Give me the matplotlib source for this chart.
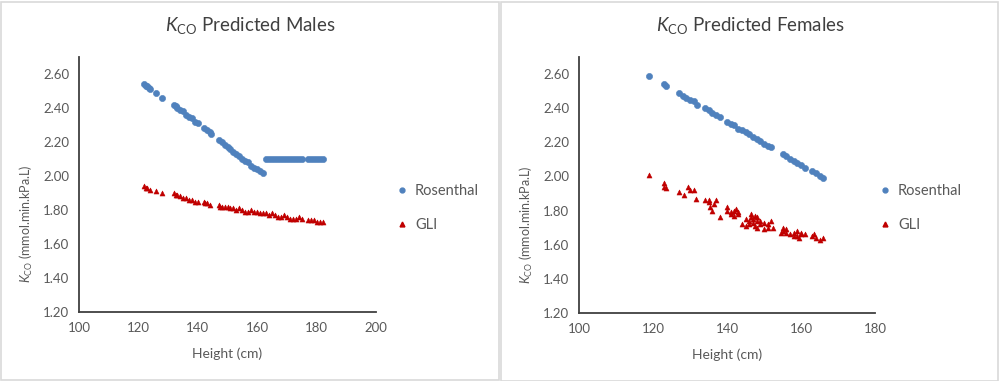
import matplotlib
matplotlib.use("Agg")
import matplotlib.pyplot as plt
from matplotlib.lines import Line2D

plt.rcParams['font.family'] = ['Lato', 'DejaVu Sans']
plt.rcParams['mathtext.fontset'] = 'custom'
plt.rcParams['mathtext.rm'] = 'Lato'
plt.rcParams['mathtext.it'] = 'Lato:italic'

# ---------------- data ----------------
male_ros_h = [122, 122.5, 123, 123.5, 124, 126, 128, 132, 132.5, 133, 134, 135, 136, 137, 138, 139, 140,
              142, 143, 144, 144.5, 147, 148, 149, 150, 151, 152, 153, 154, 155, 156, 157, 158, 159,
              160, 161, 162,
              163, 164, 165, 166, 167, 168, 169, 170, 171, 172, 173, 174, 175, 177, 178, 179, 180, 181, 182]
male_ros_k = [2.54, 2.53, 2.53, 2.52, 2.51, 2.49, 2.46, 2.42, 2.41, 2.40, 2.39, 2.38, 2.36, 2.35, 2.34, 2.32, 2.31,
              2.28, 2.27, 2.26, 2.25, 2.21, 2.20, 2.18, 2.17, 2.16, 2.14, 2.13, 2.12, 2.10, 2.09, 2.08, 2.06, 2.05,
              2.04, 2.03, 2.02,
              2.10, 2.10, 2.10, 2.10, 2.10, 2.10, 2.10, 2.10, 2.10, 2.10, 2.10, 2.10, 2.10, 2.10, 2.10, 2.10, 2.10, 2.10, 2.10]

male_gli_h = [122, 122.5, 123, 124, 126, 128, 132, 132.5, 133, 134, 135, 136, 137, 138, 139, 140,
              142, 142.5, 143, 144, 147, 147.5, 148, 149, 150, 151, 152, 153, 154, 155, 156, 157, 158,
              159, 160, 161, 162, 163, 164, 165, 166, 167, 168, 169, 170, 171, 172, 173, 174, 175,
              177, 178, 179, 180, 181, 182]
male_gli_k = [1.94, 1.93, 1.93, 1.92, 1.91, 1.90, 1.90, 1.89, 1.89, 1.88, 1.87, 1.87, 1.86, 1.86, 1.85, 1.85,
              1.85, 1.84, 1.84, 1.83, 1.83, 1.82, 1.82, 1.82, 1.82, 1.81, 1.81, 1.80, 1.81, 1.80, 1.79, 1.79, 1.80,
              1.79, 1.79, 1.78, 1.78, 1.78, 1.77, 1.78, 1.77, 1.76, 1.76, 1.77, 1.76, 1.75, 1.75, 1.75, 1.76, 1.75,
              1.74, 1.74, 1.74, 1.73, 1.73, 1.73]

fem_ros_h = [119, 123, 123.5, 127, 128, 129, 130, 131, 132, 134, 135, 136, 137, 138, 140, 141, 142, 143,
             144, 145, 146, 147, 148, 149, 150, 151, 152, 155, 156, 157, 158, 159, 160, 161, 163, 164, 165, 166]
fem_ros_k = [2.59, 2.54, 2.53, 2.49, 2.47, 2.46, 2.45, 2.44, 2.42, 2.40, 2.39, 2.37, 2.36, 2.35, 2.32, 2.31,
             2.30, 2.28, 2.27, 2.26, 2.25, 2.23, 2.22, 2.21, 2.19, 2.18, 2.17, 2.13, 2.12, 2.10, 2.09, 2.08,
             2.07, 2.05, 2.03, 2.02, 2.00, 1.99]

fem_gli_h = [119, 123, 123, 123.5, 127, 128.5, 129.5, 130, 131, 131.5, 134, 135, 135, 135.5, 136, 136.5, 137,
             138, 140, 140, 141, 141, 142, 142, 142.5, 143, 143, 144, 145, 145, 146, 146, 146.5, 146.5,
             147, 147, 147.5, 147.5, 148, 148, 148, 149, 149, 150, 150, 151, 151, 152, 152.5, 154.5,
             155, 155, 156, 156, 157, 158, 158, 159, 159, 159.5, 160, 160, 161, 163, 163.5, 164, 165, 166]
fem_gli_k = [2.01, 1.96, 1.94, 1.93, 1.91, 1.89, 1.94, 1.92, 1.92, 1.87, 1.86, 1.85, 1.86, 1.82, 1.80, 1.84, 1.86,
             1.76, 1.82, 1.80, 1.79, 1.78, 1.80, 1.77, 1.81, 1.79, 1.78, 1.72, 1.71, 1.75, 1.74, 1.72, 1.78, 1.76,
             1.73, 1.75, 1.77, 1.71, 1.76, 1.74, 1.70, 1.74, 1.72, 1.73, 1.69, 1.72, 1.70, 1.74, 1.70, 1.67,
             1.70, 1.68, 1.69, 1.67, 1.66, 1.65, 1.67, 1.68, 1.65, 1.64, 1.66, 1.67, 1.66, 1.65, 1.66, 1.64, 1.63, 1.64]

y_ticks = [1.20, 1.40, 1.60, 1.80, 2.00, 2.20, 2.40, 2.60]
male_x_ticks = [100, 120, 140, 160, 180, 200]
fem_x_ticks = [100, 120, 140, 160, 180]
titles = ["Predicted Males", "Predicted Females"]
series_names = ["Rosenthal", "GLI"]

# ---------------- style ----------------
W, H = 999, 381
BLUE = '#4F81BD'
RED = '#C00000'
TXT = '#595959'

fig = plt.figure(figsize=(W / 100, H / 100), dpi=100)
fig.patch.set_facecolor('white')


def px_axes(x0, x1, ytop, ybot):
    return fig.add_axes([x0 / W, (H - ybot) / H, (x1 - x0) / W, (ybot - ytop) / H])


# panel frames
fig.add_artist(plt.Rectangle((0.5 / W, 1.5 / H), 498 / W, 378 / H, transform=fig.transFigure,
                             fill=False, ec='#D9D9D9', lw=1.2))
fig.add_artist(plt.Rectangle((500.5 / W, 0.5 / H), 497 / W, 379 / H, transform=fig.transFigure,
                             fill=False, ec='#D9D9D9', lw=1.2))

panels = [
    dict(ax=px_axes(79, 376, 57, 312), x0=79, xlim=(100, 200), xt=male_x_ticks,
         ros=(male_ros_h, male_ros_k), gli=(male_gli_h, male_gli_k), title=titles[0],
         cx=250, legx=405, ylx=35),
    dict(ax=px_axes(579, 875, 57, 313), x0=579, xlim=(100, 180), xt=fem_x_ticks,
         ros=(fem_ros_h, fem_ros_k), gli=(fem_gli_h, fem_gli_k), title=titles[1],
         cx=750, legx=888, ylx=535),
]

for p in panels:
    ax = p['ax']
    ax.scatter(*p['ros'], s=20, marker='o', color=BLUE, edgecolors=BLUE, linewidths=0.4, zorder=3)
    ax.scatter(*p['gli'], s=13, marker='^', color=RED, edgecolors=RED, linewidths=0.4, zorder=3)
    ax.set_xlim(*p['xlim'])
    ax.set_ylim(1.2, 2.7)
    ax.set_xticks(p['xt'])
    ax.set_yticks(y_ticks)
    ax.set_yticklabels([f"{v:.2f}" for v in y_ticks])
    ax.tick_params(length=0, labelsize=9.5, colors=TXT, pad=7)
    for s in ['top', 'right']:
        ax.spines[s].set_visible(False)
    for s in ['left', 'bottom']:
        ax.spines[s].set_color('#404040')
        ax.spines[s].set_linewidth(1.3)
    ax.set_xlabel("Height (cm)", fontsize=10, color=TXT, labelpad=10)
    ax.set_ylabel(r"$K_{\mathrm{CO}}$ (mmol.min.kPa.L)", fontsize=9, color=TXT)
    ax.yaxis.set_label_coords((p['ylx'] - p['x0']) / 297, 0.345)
    ax.patch.set_alpha(0)
    fig.text(p['cx'] / W, 1 - 26 / H, r"$K_{\mathrm{CO}}$ " + p['title'], ha='center', va='center',
             fontsize=13.5, color='#404040')
    handles = [Line2D([], [], ls='', marker='o', color=BLUE, ms=3.5),
               Line2D([], [], ls='', marker='^', color=RED, ms=3.5)]
    leg = fig.legend(handles, series_names, loc='center left',
                     bbox_to_anchor=((p['legx'] - 9) / W, 1 - 208 / H),
                     frameon=False, fontsize=10.5, labelcolor=TXT, handlelength=0.8,
                     handletextpad=0.5, labelspacing=1.35, borderaxespad=0, borderpad=0)

fig.savefig("out.png", dpi=100, facecolor='white')
